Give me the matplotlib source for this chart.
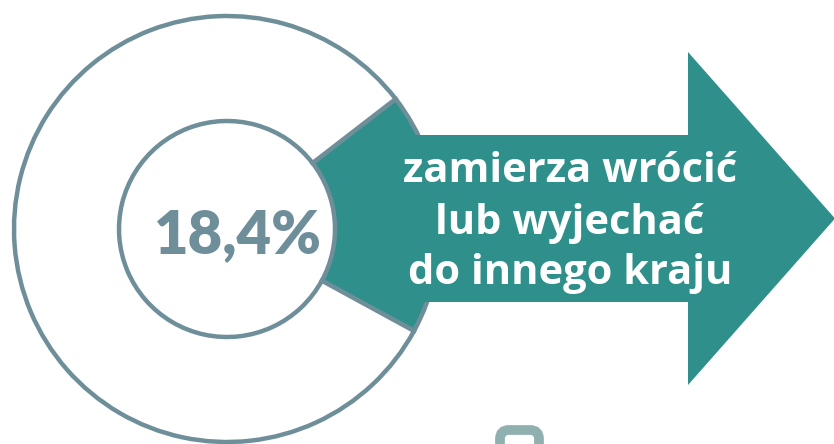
import matplotlib.pyplot as plt
from matplotlib.patches import Polygon, FancyBboxPatch

# share of respondents, in percent
share = 18.4
rest = 100 - share
label_value = "18,4%"
caption_lines = ["zamierza wrócić", "lub wyjechać", "do innego kraju"]

teal = '#2f8f8a'
ring_gray = '#6e8f99'
light_gray = '#8fb0ae'

W, H = 834, 444
fig = plt.figure(figsize=(W / 100, H / 100), dpi=100)
ax = fig.add_axes([0, 0, 1, 1])

# ring geometry (pixels, y up)
cx, cy = 227, H - 229
r_out, r_in = 213, 108
start = -28.6

ax.pie([share, rest], radius=r_out, center=(cx, cy), startangle=start,
       counterclock=True, colors=[teal, 'white'], frame=True,
       wedgeprops=dict(width=r_out - r_in, edgecolor=ring_gray, linewidth=3.2))

# arrow body + head, drawn over the outer arc of the wedge
yc = H - 218.5
body_h = 167
head_h = 333
arrow = Polygon([(385, yc + body_h / 2), (688, yc + body_h / 2), (688, yc + head_h / 2),
                 (835, yc), (688, yc - head_h / 2), (688, yc - body_h / 2),
                 (385, yc - body_h / 2)],
                closed=True, facecolor=teal, edgecolor='none', zorder=3)
ax.add_patch(arrow)

ax.text(cx + 11, cy - 7, label_value, ha='center', va='center', fontsize=43,
        fontweight='heavy', color=ring_gray, family='Lato', zorder=4)

for i, line in enumerate(caption_lines):
    ax.text(570, H - 172 - i * 51, line, ha='center', va='center', fontsize=30,
            fontweight='bold', color='white', family='Open Sans', zorder=4)

# small rounded frame at the bottom edge
frame = FancyBboxPatch((500, H - 460), 39, 30, boxstyle='round,pad=0,rounding_size=9',
                       facecolor='none', edgecolor=light_gray, linewidth=7, zorder=2)
ax.add_patch(frame)

ax.set_xlim(0, W)
ax.set_ylim(0, H)
ax.set_aspect('equal')
ax.axis('off')

fig.savefig('out.png', dpi=100)
